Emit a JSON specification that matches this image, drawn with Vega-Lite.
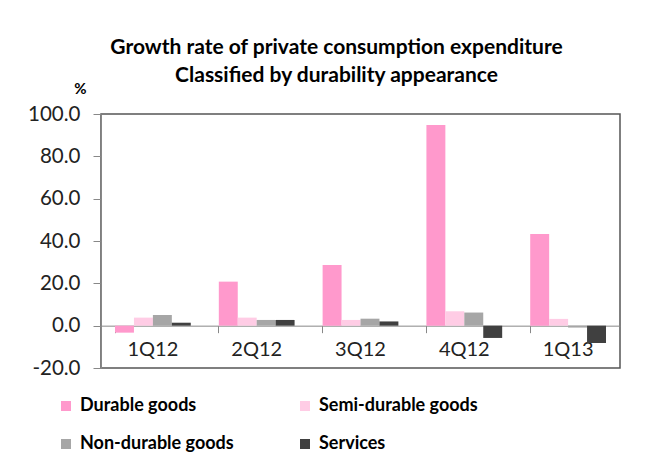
{
  "$schema": "https://vega.github.io/schema/vega-lite/v6.json",
  "width": 519,
  "height": 254,
  "autosize": {"type": "none"},
  "padding": {"left": 101, "top": 114, "right": 39, "bottom": 108},
  "background": "white",
  "title": {
    "text": ["Growth rate of private consumption expenditure", "Classified by durability appearance"],
    "font": "Lato",
    "fontSize": 21,
    "fontWeight": "bold",
    "color": "#000000",
    "anchor": "middle",
    "frame": "group",
    "dx": -24,
    "lineHeight": 28,
    "offset": -5
  },
  "data": {
    "values": [
      {"q": "1Q12", "cat": "Durable goods", "v": -3.3},
      {"q": "1Q12", "cat": "Semi-durable goods", "v": 3.8},
      {"q": "1Q12", "cat": "Non-durable goods", "v": 5.0},
      {"q": "1Q12", "cat": "Services", "v": 1.4},
      {"q": "2Q12", "cat": "Durable goods", "v": 20.8},
      {"q": "2Q12", "cat": "Semi-durable goods", "v": 3.8},
      {"q": "2Q12", "cat": "Non-durable goods", "v": 2.7},
      {"q": "2Q12", "cat": "Services", "v": 2.7},
      {"q": "3Q12", "cat": "Durable goods", "v": 28.7},
      {"q": "3Q12", "cat": "Semi-durable goods", "v": 2.7},
      {"q": "3Q12", "cat": "Non-durable goods", "v": 3.3},
      {"q": "3Q12", "cat": "Services", "v": 2.0},
      {"q": "4Q12", "cat": "Durable goods", "v": 94.8},
      {"q": "4Q12", "cat": "Semi-durable goods", "v": 6.8},
      {"q": "4Q12", "cat": "Non-durable goods", "v": 6.2},
      {"q": "4Q12", "cat": "Services", "v": -5.8},
      {"q": "1Q13", "cat": "Durable goods", "v": 43.3},
      {"q": "1Q13", "cat": "Semi-durable goods", "v": 3.2},
      {"q": "1Q13", "cat": "Non-durable goods", "v": -0.9},
      {"q": "1Q13", "cat": "Services", "v": -8.2}
    ]
  },
  "mark": {"type": "bar"},
  "encoding": {
    "x": {
      "field": "q",
      "type": "nominal",
      "sort": ["1Q12", "2Q12", "3Q12", "4Q12", "1Q13"],
      "scale": {"paddingInner": 0.27, "paddingOuter": 0.135},
      "axis": {
        "title": null,
        "offset": -42.33,
        "bandPosition": 0,
        "labelAngle": 0,
        "labelAlign": "center",
        "labelFont": "Lato",
        "labelFontSize": 20,
        "labelColor": "#222222",
        "labelPadding": 7,
        "tickSize": 7,
        "tickColor": "#888888",
        "domainColor": "#888888",
        "labelFlush": false
      }
    },
    "xOffset": {
      "field": "cat",
      "type": "nominal",
      "sort": ["Durable goods", "Semi-durable goods", "Non-durable goods", "Services"],
      "scale": {"paddingInner": 0, "paddingOuter": 0}
    },
    "y": {
      "field": "v",
      "type": "quantitative",
      "scale": {"domain": [-20, 100], "nice": false, "zero": false},
      "axis": {
        "values": [-20, 0, 20, 40, 60, 80, 100],
        "format": ".1f",
        "labelExpr": "datum.value < 0 ? '-' + format(-datum.value, '.1f') : format(datum.value, '.1f')",
        "grid": false,
        "title": "%",
        "titleAngle": 0,
        "titleX": -21,
        "titleY": -26,
        "titleAlign": "center",
        "titleBaseline": "middle",
        "titleFont": "Lato",
        "titleFontSize": 15,
        "titleFontWeight": "bold",
        "titleColor": "#000000",
        "labelFont": "Lato",
        "labelFontSize": 20.5,
        "labelColor": "#222222",
        "labelPadding": 13,
        "tickSize": 8,
        "tickColor": "#888888",
        "domainColor": "#888888"
      }
    },
    "color": {
      "field": "cat",
      "type": "nominal",
      "sort": ["Durable goods", "Semi-durable goods", "Non-durable goods", "Services"],
      "scale": {
        "domain": ["Durable goods", "Semi-durable goods", "Non-durable goods", "Services"],
        "range": ["#FF99CC", "#FFCCE5", "#A6A6A6", "#404040"]
      },
      "legend": {
        "title": null,
        "orient": "none",
        "direction": "horizontal",
        "legendX": -44,
        "legendY": 283,
        "columns": 2,
        "columnPadding": 62,
        "rowPadding": 20,
        "symbolType": "square",
        "symbolSize": 100,
        "symbolStrokeWidth": 0,
        "labelFont": "Lato",
        "labelFontSize": 18,
        "labelFontWeight": "bold",
        "labelColor": "#000000",
        "labelOffset": 5,
        "labelLimit": 300
      }
    }
  },
  "config": {
    "view": {"stroke": "#555555", "strokeWidth": 1.5}
  }
}
